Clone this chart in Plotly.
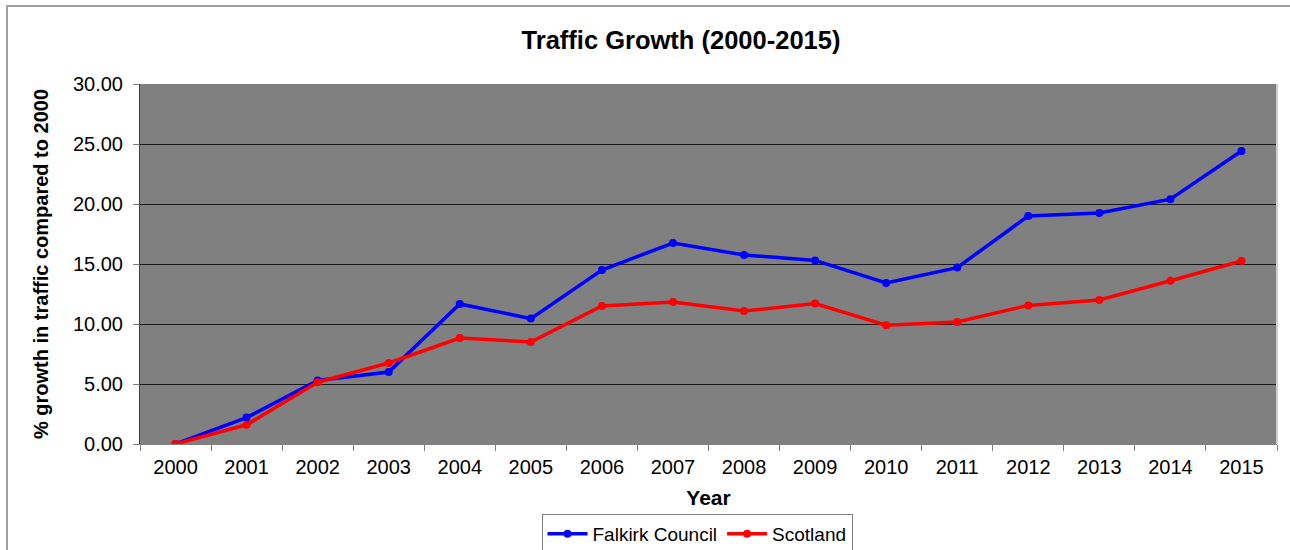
import plotly.graph_objects as go

years = [str(y) for y in range(2000, 2016)]
falkirk = [0.0, 2.2, 5.3, 6.0, 11.67, 10.45, 14.5, 16.75, 15.75, 15.3, 13.42, 14.7, 19.0, 19.25, 20.4, 24.42]
scotland = [0.0, 1.6, 5.15, 6.75, 8.83, 8.5, 11.5, 11.83, 11.08, 11.7, 9.9, 10.17, 11.55, 12.0, 13.6, 15.25]

FONT = "Liberation Sans, Arial, sans-serif"

fig = go.Figure()
fig.add_trace(go.Scatter(x=years, y=falkirk, name="Falkirk Council", mode="lines+markers",
                         line=dict(color="#0000ff", width=3.5), marker=dict(color="#0000ff", size=8)))
fig.add_trace(go.Scatter(x=years, y=scotland, name="Scotland", mode="lines+markers",
                         line=dict(color="#ff0000", width=3.5), marker=dict(color="#ff0000", size=8)))

L, R, T, B = 140, 13, 84, 106
PW, PH = 1290 - L - R, 550 - T - B

fig.update_layout(
    width=1290, height=550,
    margin=dict(l=L, r=R, t=T, b=B, autoexpand=False),
    paper_bgcolor="white", plot_bgcolor="#808080",
    font=dict(family=FONT, size=20, color="black"),
    title=dict(text="<b>Traffic Growth (2000-2015)</b>", x=681 / 1290, xanchor="center",
               y=1 - 40 / 550, yanchor="middle", font=dict(size=25.5, family=FONT)),
    showlegend=True,
    legend=dict(orientation="h", xref="container", yref="container",
                x=697 / 1290, xanchor="center", y=1 - 514 / 550, yanchor="top",
                bordercolor="#808080", borderwidth=1, bgcolor="white",
                font=dict(size=19, family=FONT), itemwidth=40, tracegroupgap=0),
    xaxis=dict(type="category", range=[-0.5, 15.5], tickson="boundaries", ticks="outside",
               ticklen=6, tickcolor="#808080", showgrid=False, showline=True, linecolor="#808080",
               ticklabelstandoff=5,
               title=dict(text="<b>Year</b>", font=dict(size=21, family=FONT), standoff=13),
               tickfont=dict(size=20, family=FONT)),
    yaxis=dict(range=[0, 30], dtick=5, tickformat=".2f", ticks="outside", ticklen=6,
               tickcolor="#808080", showgrid=True, gridcolor="#1a1a1a", gridwidth=1,
               showline=True, linecolor="#404040", zeroline=False,
               ticklabelstandoff=6,
               title=dict(text="<b>% growth in traffic compared to 2000</b>", font=dict(size=20, family=FONT), standoff=18),
               tickfont=dict(size=20, family=FONT)),
    shapes=[
        dict(type="rect", xref="paper", yref="paper",
             x0=(7 - L) / PW, x1=(1300 - L) / PW, y0=(444 - 560) / PH, y1=(444 - 6) / PH,
             line=dict(color="#a0a0a0", width=2), fillcolor="rgba(0,0,0,0)", layer="below"),
        dict(type="line", xref="paper", yref="paper", x0=1, x1=1, y0=0, y1=1,
             line=dict(color="#d0d0d0", width=2)),
    ],
)

fig.write_html("out.html")
